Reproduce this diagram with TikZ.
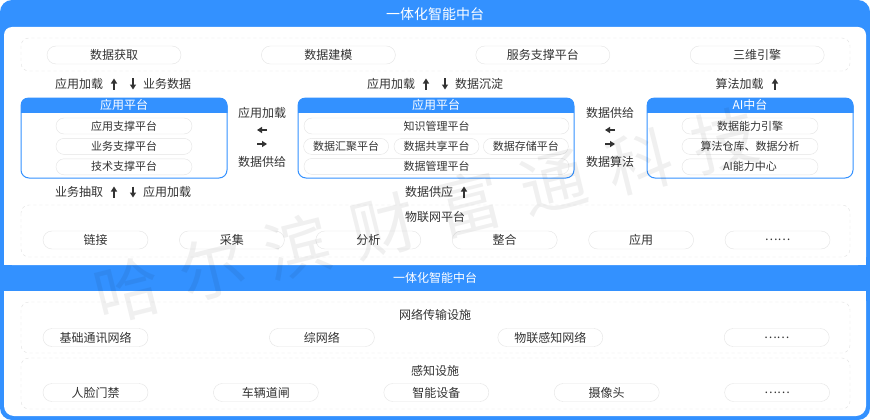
\documentclass[tikz,border=0pt]{standalone}
\usepackage{fontspec}
\setmainfont{Noto Sans CJK SC}
\usetikzlibrary{positioning, arrows.meta}

\definecolor{mainblue}{HTML}{3391FF}
\definecolor{txtgray}{HTML}{333333}
\definecolor{pillline}{HTML}{E4E4E4}
\definecolor{dashline}{HTML}{E2E2E2}

\tikzset{
  arr/.style={-{Triangle[width=6pt,length=5pt]}, line width=2pt, draw=txtgray},
  wmark/.style={text=black, opacity=0.06, rotate=14, font=\fontsize{66}{70}\selectfont}
}

\begin{document}
\begin{tikzpicture}[
  x=1pt, y=-1pt,
  node distance=80pt,
  every node/.style={text=txtgray, inner sep=0pt, font=\fontsize{12}{14}\selectfont},
  pill/.style={draw=pillline, fill=white, rounded corners=9pt, minimum width=134pt, minimum height=18pt},
  subpill/.style={draw=pillline, fill=white, rounded corners=8pt, minimum height=16pt, font=\fontsize{11}{13}\selectfont},
  dashbox/.style={draw=dashline, dashed, rounded corners=8pt},
  platbox/.style={draw=mainblue, fill=white, rounded corners=8pt, line width=1pt, minimum height=80pt},
  title/.style={text=white}]

  \useasboundingbox (0,0) rectangle (870,420);
  % frame and panels
  \fill[mainblue, rounded corners=12pt] (0,0) rectangle (870,420);
  \fill[white, rounded corners=8pt] (4,27) rectangle (866,265);
  \fill[white] (4,255) rectangle (866,265);
  \fill[white, rounded corners=10pt] (4,291) rectangle (866,416);
  \fill[white] (4,291) rectangle (866,301);
  \node[title, font=\fontsize{14}{16}\selectfont] (top) at (435,14) {一体化智能中台};
  \node[title] (band) at (435,278) {一体化智能中台};

  % row 1
  \draw[dashbox] (21,38) rectangle (850,71);
  \node[pill] (acq) at (114,55) {数据获取};
  \node[pill, right=of acq] (model) {数据建模};
  \node[pill, right=of model] (svc) {服务支撑平台};
  \node[pill, right=of svc] (engine) {三维引擎};

  % labels above the platforms
  \node (la1) at (79,84) {应用加载};
  \node (la2) at (167,84) {业务数据};
  \node (la3) at (391,84) {应用加载};
  \node (la4) at (479,84) {数据沉淀};
  \node (la5) at (739.5,84) {算法加载};
  \coordinate (u1) at (114,84);
  \coordinate (d1) at (133,84);
  \coordinate (u2) at (426,84);
  \coordinate (d2) at (445,84);
  \coordinate (u3) at (775,84);

  % platforms
  \node[platbox, minimum width=206pt] (lbox) at (124,138) {};
  \node[platbox, minimum width=276pt] (mbox) at (436,138) {};
  \node[platbox, minimum width=206pt] (rbox) at (750,138) {};
  \foreach \b/\t in {lbox/应用平台, mbox/应用平台, rbox/AI中台}{
    \begin{scope}
      \clip[rounded corners=8pt] (\b.north west) rectangle (\b.south east);
      \fill[mainblue] (\b.north west) rectangle ([yshift=-15pt]\b.north east);
    \end{scope}
    \node[title] at ([yshift=-7.5pt]\b.north) {\t};
  }

  \node[subpill, minimum width=136pt] (lp1) at (124,126) {应用支撑平台};
  \node[subpill, minimum width=136pt, below=4pt of lp1] (lp2) {业务支撑平台};
  \node[subpill, minimum width=136pt, below=4pt of lp2] (lp3) {技术支撑平台};

  \node[subpill, minimum width=265pt] (mp1) at (436.5,126) {知识管理平台};
  \node[subpill, minimum width=85pt, below=4pt of mp1] (mp3) {数据共享平台};
  \node[subpill, minimum width=85pt, left=5pt of mp3] (mp2) {数据汇聚平台};
  \node[subpill, minimum width=85pt, right=4pt of mp3] (mp4) {数据存储平台};
  \node[subpill, minimum width=265pt, below=24pt of mp1] (mp5) {数据管理平台};

  \node[subpill, minimum width=136pt] (rp1) at (750,126) {数据能力引擎};
  \node[subpill, minimum width=136pt, below=4pt of rp1] (rp2) {算法仓库、数据分析};
  \node[subpill, minimum width=136pt, below=4pt of rp2] (rp3) {AI能力中心};

  % between the platforms
  \node (lb1) at (262,113) {应用加载};
  \node (lb2) at (262,162) {数据供给};
  \node (rb1) at (610,113) {数据供给};
  \node (rb2) at (610,162) {数据算法};
  \coordinate (lw) at (262,130);
  \coordinate (le) at (262,144);
  \coordinate (rw) at (610,130);
  \coordinate (re) at (610,144);

  % labels below the platforms
  \node (lc1) at (79,192) {业务抽取};
  \node (lc2) at (167,192) {应用加载};
  \node (lc3) at (429,192) {数据供应};
  \coordinate (u4) at (114,192);
  \coordinate (d4) at (133,192);
  \coordinate (u5) at (464,192);

  \foreach \c in {u1,u2,u3,u4,u5}
    \draw[arr] ([yshift=-5.5pt]\c) -- ([yshift=5.5pt]\c);
  \foreach \c in {d1,d2,d4}
    \draw[arr] ([yshift=5.5pt]\c) -- ([yshift=-5.5pt]\c);
  \foreach \c in {lw,rw}
    \draw[arr] ([xshift=5pt]\c) -- ([xshift=-5pt]\c);
  \foreach \c in {le,re}
    \draw[arr] ([xshift=-5pt]\c) -- ([xshift=5pt]\c);

  % IoT platform
  \draw[dashbox] (21,205) rectangle (850,257);
  \node (iot) at (435,217) {物联网平台};
  \node[pill, minimum width=105pt] (link) at (95.5,240) {链接};
  \node[pill, minimum width=105pt, right=31pt of link] (collect) {采集};
  \node[pill, minimum width=105pt, right=31pt of collect] (analyse) {分析};
  \node[pill, minimum width=105pt, right=31pt of analyse] (merge) {整合};
  \node[pill, minimum width=105pt, right=31pt of merge] (apply) {应用};
  \node[pill, minimum width=105pt, right=31pt of apply] (iotmore) {……};

  % network
  \draw[dashbox] (21,302) rectangle (850,353);
  \node (net) at (435,315) {网络传输设施};
  \node[pill, minimum width=105pt] (net1) at (95.5,337.5) {基础通讯网络};
  \node[pill, minimum width=105pt, right=121pt of net1] (net2) {综网络};
  \node[pill, minimum width=105pt, right=123pt of net2] (net3) {物联感知网络};
  \node[pill, minimum width=105pt, right=121pt of net3] (netmore) {……};

  % sensing
  \draw[dashbox] (21,358) rectangle (850,409);
  \node (sense) at (435,371) {感知设施};
  \node[pill, minimum width=105pt] (face) at (95.5,392.5) {人脸门禁};
  \node[pill, minimum width=105pt, right=65pt of face] (gate) {车辆道闸};
  \node[pill, minimum width=105pt, right=65pt of gate] (smart) {智能设备};
  \node[pill, minimum width=105pt, right=65pt of smart] (camera) {摄像头};
  \node[pill, minimum width=105pt, right=65pt of camera] (sensemore) {……};

  % watermark
  \foreach \c [count=\i from 0] in {哈,尔,滨,财,富,通,科,技}
    \node[wmark] (wm\i) at (127+85.4*\i, 290-21.4*\i) {\c};
\end{tikzpicture}
\end{document}
